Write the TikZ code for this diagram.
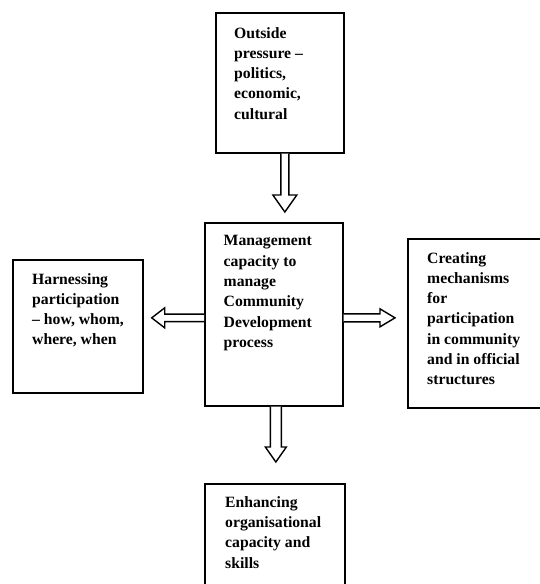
\documentclass[tikz,border=0pt]{standalone}
\usepackage{fontspec}
\setmainfont{Liberation Serif}
\usetikzlibrary{calc}

\tikzset{
  box/.style={draw, line width=1.7pt, inner sep=0pt, anchor=north west, fill=none},
  txt/.style={inner sep=0pt, anchor=north west, align=left,
              font=\fontsize{15.7}{20.3}\selectfont\bfseries},
  arrowline/.style={line width=1.4pt, line join=miter, fill=white}
}

% hollow block arrow: #1 start, #2 tip, #3 shaft half width,
% #4 head half width, #5 head length
\newcommand\hollowarrow[5]{%
  \coordinate (hb) at ($(#2)!#5pt!(#1)$);
  \draw[arrowline]
    ($(#1)!#3pt!90:(#2)$) -- ($(hb)!#3pt!-90:(#1)$) -- ($(hb)!#4pt!-90:(#1)$)
    -- (#2) -- ($(hb)!#4pt!90:(#1)$) -- ($(hb)!#3pt!90:(#1)$)
    -- ($(#1)!#3pt!-90:(#2)$);
}

\begin{document}
\begin{tikzpicture}[x=1pt, y=-1pt]
  \useasboundingbox[fill=white] (0,0) rectangle (540,584);
  \begin{scope}
  \clip (0,0) rectangle (540,584);

  % boxes
  \node[box, minimum width=128, minimum height=140] (top) at (215,12) {};
  \node[box, minimum width=138, minimum height=183] (mgmt) at (204,222) {};
  \node[box, minimum width=130, minimum height=133] (left) at (12,259) {};
  \node[box, minimum width=145, minimum height=169] (right) at (407,238) {};
  \node[box, minimum width=140, minimum height=140] (bottom) at (204,483) {};

  % texts
  \node[txt] (topT) at ($(top.north west)+(19,15)$)
    {Outside\\pressure --\\politics,\\economic,\\cultural};
  \node[txt] (mgmtT) at ($(mgmt.north west)+(19.5,13.5)$)
    {Management\\capacity to\\manage\\Community\\Development\\process};
  \node[txt] (leftT) at ($(left.north west)+(20,14)$)
    {Harnessing\\participation\\-- how, whom,\\where, when};
  \node[txt] (rightT) at ($(right.north west)+(20,14)$)
    {Creating\\mechanisms\\for\\participation\\in community\\and in official\\structures};
  \node[txt] (bottomT) at ($(bottom.north west)+(21,13)$)
    {Enhancing\\organisational\\capacity and\\skills};

  % connectors
  \coordinate (a1s) at ($(top.south)+(5,0)$);
  \coordinate (a1t) at ($(mgmt.north)+(11,-10)$);
  \hollowarrow{a1s}{a1t}{4}{12}{17}

  \coordinate (a2s) at ($(mgmt.west)+(0,3.5)$);
  \coordinate (a2t) at ($(left.east)+(8,-8.5)$);
  \hollowarrow{a2s}{a2t}{3.7}{10}{13}

  \coordinate (a3s) at ($(mgmt.east)+(0,3.5)$);
  \coordinate (a3t) at ($(right.west)+(-12,-5.5)$);
  \hollowarrow{a3s}{a3t}{4}{9}{15}

  \coordinate (a4s) at ($(mgmt.south)+(2,0)$);
  \coordinate (a4t) at ($(bottom.north)+(1,-21)$);
  \hollowarrow{a4s}{a4t}{5.5}{10.5}{15}
  \end{scope}
\end{tikzpicture}
\end{document}
